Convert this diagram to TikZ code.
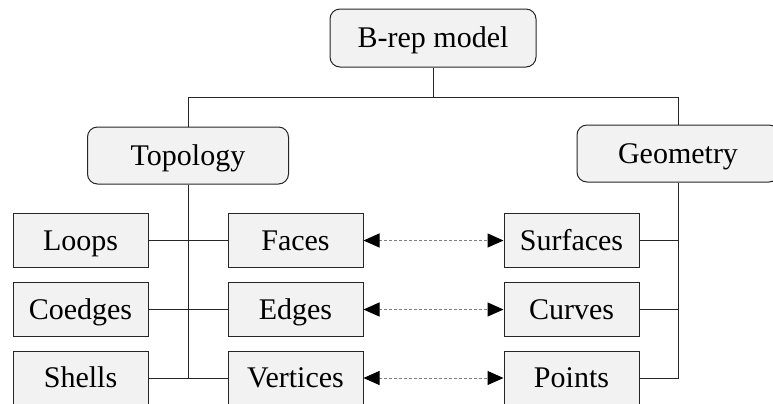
\documentclass[tikz,border=0pt]{standalone}
\usepackage{fontspec}
\setmainfont{Liberation Serif}
\usepackage{tikz}
\usetikzlibrary{calc}
\usetikzlibrary{arrows.meta}

\begin{document}
\begin{tikzpicture}[x=0.5pt, y=-0.5pt,
		every node/.style={font=\fontsize{15}{18}\selectfont, inner sep=0pt, text height=12pt, text depth=2.5pt},
		groupbox/.style={draw=black!85, fill=black!5, rounded corners=5pt, line width=0.5pt, minimum height=28.5pt},
		itembox/.style={draw=black!85, fill=black!5, line width=0.5pt, minimum width=67.5pt, minimum height=27pt},
		link/.style={draw=black!85, line width=0.5pt},
		pair/.style={draw=black!50, line width=0.5pt, dash pattern=on 1.5pt off 1pt, {Triangle[black, length=8pt, width=7pt]}-{Triangle[black, length=8pt, width=7pt]}}]
    		\useasboundingbox (0,0) rectangle (773,403);
    		% top level
    		\node [groupbox, minimum width=103pt, minimum height=29pt] (brep) at (433,38) {B-rep model};
    		\node [groupbox, minimum width=100.5pt] (topo) at (188,155.5) {Topology};
    		\node [groupbox, minimum width=101pt] (geo) at (678,153.5) {Geometry};
    		\coordinate (split) at (433,97);
    		\draw [link] (brep.south) -- (split) -| (topo.north);
    		\draw [link] (split) -| (geo.north);
    		% topology side
    		\node [itembox] (loops) at (80.5,240.5) {Loops};
    		\node [itembox] (coedges) at (80.5,309.5) {Coedges};
    		\node [itembox] (shells) at (80.5,378) {Shells};
    		\node [itembox] (faces) at (295.5,240.5) {Faces};
    		\node [itembox] (edges) at (295.5,309.5) {Edges};
    		\node [itembox] (vertices) at (295.5,378) {Vertices};
    		\draw [link] (topo.south) |- (vertices.west);
    		\draw [link] (loops.east) -- (faces.west);
    		\draw [link] (coedges.east) -- (edges.west);
    		\draw [link] (shells.east) -- (shells.east -| topo.south);
    		% geometry side
    		\node [itembox] (surfaces) at (571.5,240.5) {Surfaces};
    		\node [itembox] (curves) at (571.5,309.5) {Curves};
    		\node [itembox] (points) at (571.5,378) {Points};
    		\draw [link] (geo.south) |- (points.east);
    		\draw [link] (surfaces.east) -- (surfaces.east -| geo.south);
    		\draw [link] (curves.east) -- (curves.east -| geo.south);
    		% links between both
    		\draw [pair] (faces.east) -- (surfaces.west);
    		\draw [pair] (edges.east) -- (curves.west);
    		\draw [pair] (vertices.east) -- (points.west);
    	\end{tikzpicture}
\end{document}
